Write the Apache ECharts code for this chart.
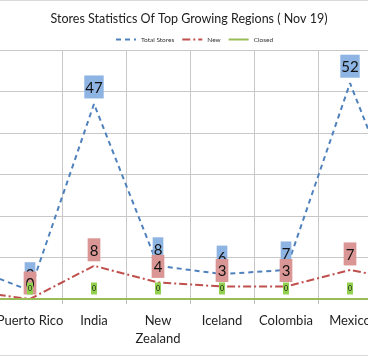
<!DOCTYPE html>
<html><head><meta charset="utf-8">
<script src="https://cdn.jsdelivr.net/npm/echarts@6/dist/echarts.min.js"></script>
<style>html,body{margin:0;padding:0;background:#fff;overflow:hidden;width:368px;height:357px}
#c{position:absolute;left:-66px;top:0;width:512px;height:357px}</style>
</head><body><div id="c"></div>
<script>
const categories = ['', 'Puerto Rico', 'India', 'New\nZealand', 'Iceland', 'Colombia', 'Mexico', ''];
const totalStores = [8, 2, 47, 8, 6, 7, 52, 13];
const newStores = [2, 0, 8, 4, 3, 3, 7, 4];
const closedStores = [0, 0, 0, 0, 0, 0, 0, 0];
const yTicks = { min: 0, max: 60, interval: 10 };

const FONT = 'Lato, "Open Sans", sans-serif';
const OFF = 66; // visible window starts at x=66 inside the chart div
const chart = echarts.init(document.getElementById('c'), null, { renderer: 'canvas' });

function lbl(bg, size, pad, dist) {
  return { show: true, position: 'top', distance: dist, backgroundColor: bg, color: '#111',
    fontFamily: FONT, fontSize: size, padding: pad, lineHeight: size + 2 };
}

chart.setOption({
  animation: false,
  backgroundColor: '#fff',
  title: { text: 'Stores Statistics Of Top Growing Regions ( Nov 19)', left: OFF + 184, top: 7,
    textAlign: 'center',
    textStyle: { fontFamily: FONT, fontSize: 12.5, fontWeight: 'normal', color: '#222' } },
  legend: { top: 31, left: OFF + 110, itemWidth: 20, itemHeight: 8, itemGap: 7,
    itemStyle: { opacity: 0 },
    textStyle: { fontFamily: FONT, fontSize: 6.5, color: '#333' },
    data: ['Total Stores', 'New', 'Closed'] },
  grid: { left: 0, right: 0, top: 50, bottom: 58 },
  xAxis: { type: 'category', data: categories, boundaryGap: true,
    axisLine: { lineStyle: { color: '#bfbfbf' } },
    axisTick: { show: true, length: 5, lineStyle: { color: '#bfbfbf' } },
    splitLine: { show: true, lineStyle: { color: '#c8c8c8' } },
    axisLabel: { interval: 0, margin: 13, fontFamily: FONT, fontSize: 13, color: '#222', lineHeight: 18 } },
  yAxis: { type: 'value', min: yTicks.min, max: yTicks.max, interval: yTicks.interval,
    axisLabel: { show: false }, axisLine: { show: false }, axisTick: { show: false },
    splitLine: { lineStyle: { color: '#c8c8c8' } } },
  graphic: [
    { type: 'line', shape: { x1: 0, y1: 0.5, x2: 512, y2: 0.5 }, style: { stroke: '#d9d9d9', lineWidth: 1 } },
    { type: 'line', shape: { x1: 0, y1: 355.5, x2: 512, y2: 355.5 }, style: { stroke: '#d9d9d9', lineWidth: 1 } }
  ],
  series: [
    { name: 'Total Stores', type: 'line', data: totalStores, z: 2, symbol: 'circle', symbolSize: 1, showSymbol: true,
      itemStyle: { color: '#4F81BD' }, lineStyle: { color: '#4F81BD', width: 2, type: [5, 4] },
      label: lbl('#8DB4E2', 15, [4, 1, 2, 1], 5) },
    { name: 'New', type: 'line', data: newStores, z: 3, symbol: 'circle', symbolSize: 1, showSymbol: true,
      itemStyle: { color: '#C0504D' }, lineStyle: { color: '#C0504D', width: 2, type: [8, 3, 2, 3] },
      label: lbl('#DA9694', 15, [4, 2, 2, 2], 4) },
    { name: 'Closed', type: 'line', data: closedStores, z: 4, symbol: 'circle', symbolSize: 1, showSymbol: true,
      itemStyle: { color: '#9BBB59' }, lineStyle: { color: '#9BBB59', width: 2 },
      label: lbl('#92D050', 7, [2, 1, 1, 1], 4) }
  ]
});
</script></body></html>
